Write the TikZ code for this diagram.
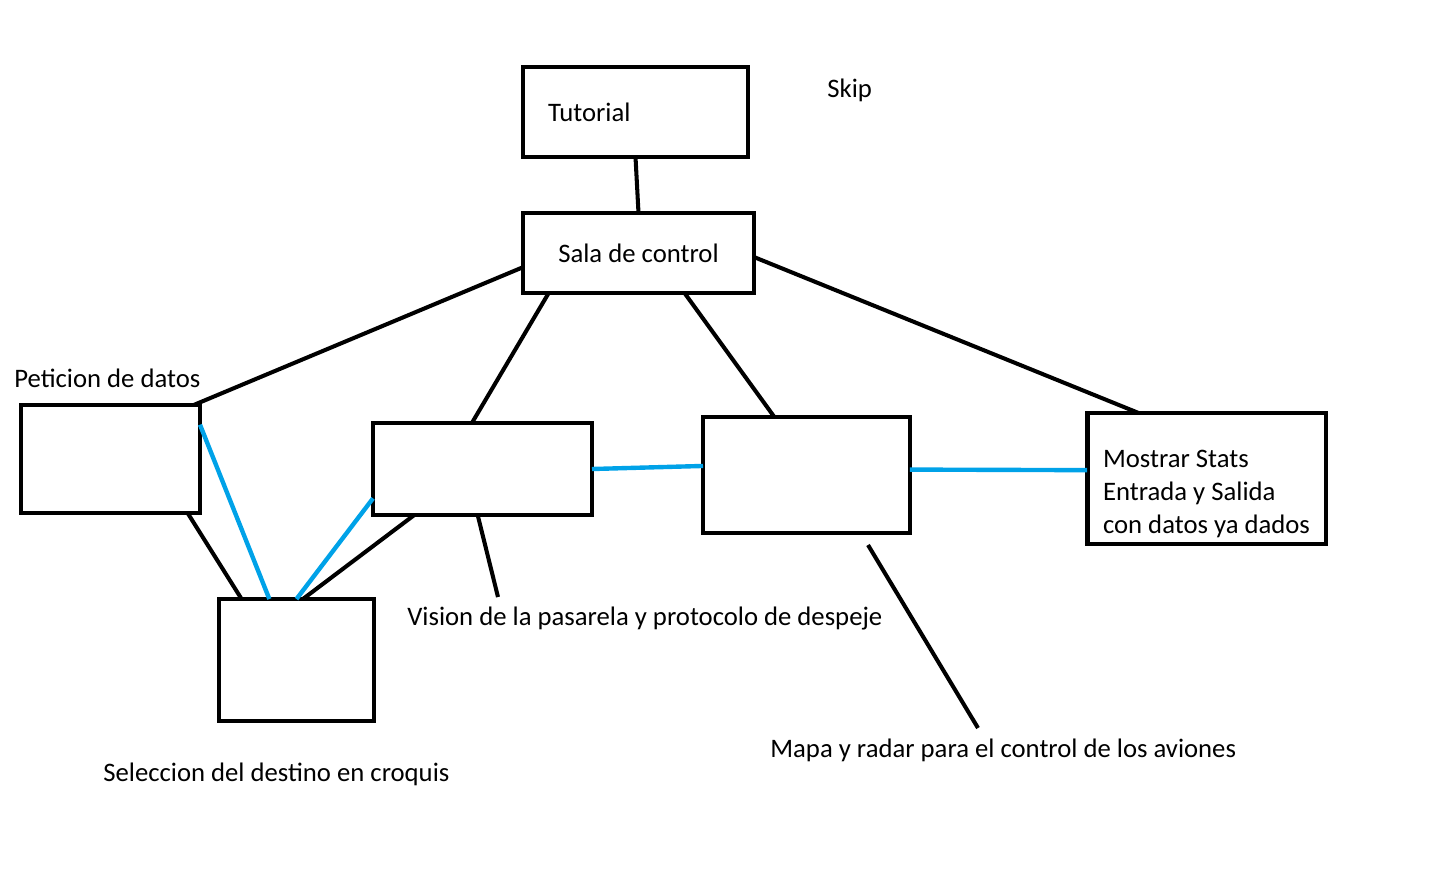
\documentclass[tikz,border=0pt]{standalone}
\usepackage{fontspec}
\setmainfont{Carlito}
\usepackage{xcolor}
\definecolor{paintblue}{RGB}{0,162,232}

\begin{document}
\begin{tikzpicture}[
    x=0.02cm, y=-0.02cm,
    font=\fontsize{15.2pt}{18.8pt}\selectfont,
    box/.style={rectangle, draw, line width=2.8pt, outer sep=0pt, align=center},
    txt/.style={inner sep=0pt, anchor=base west},
    link/.style={line width=2.3pt},
    bluelink/.style={line width=2.5pt, draw=paintblue}
]
    \useasboundingbox (0,0) rectangle (1436,870);

    \node[box, minimum width=4.5cm, minimum height=1.8cm, inner xsep=0.5cm, text width=3.5cm, align=left] (tut) at (635.5,112) {Tutorial};
    \node[box, minimum width=4.62cm, minimum height=1.6cm] (sala) at (638.5,253) {Sala de control};
    \node[box, minimum width=3.58cm, minimum height=2.16cm] (pet) at (110.5,459) {};
    \node[box, minimum width=4.38cm, minimum height=1.84cm] (vis) at (482.5,469) {};
    \node[box, minimum width=4.14cm, minimum height=2.32cm] (mapa) at (806.5,475) {};
    \node[box, minimum width=4.78cm, minimum height=2.62cm, align=left] (stats) at (1206.5,478.5) {\rule{0pt}{0.96cm}Mostrar Stats\\Entrada y Salida\\con datos ya dados};
    \node[box, minimum width=3.1cm, minimum height=2.44cm] (sel) at (296.5,660) {};

    \node[txt] (skip) at (827,97) {Skip};
    \node[txt] (pettxt) at (14,387) {Peticion de datos};
    \node[txt] (vistxt) at (407,625) {Vision de la pasarela y protocolo de despeje};
    \node[txt] (mapatxt) at (770,757) {Mapa y radar para el control de los aviones};
    \node[txt] (seltxt) at (103,781) {Seleccion del destino en croquis};

    \coordinate (vispt) at (498,597);
    \coordinate (mapa1) at (868,545);
    \coordinate (mapa2) at (978,728);

    \draw[link] (tut.south) -- (sala.north);
    \draw[link] (sala.187) -- (pet.33);
    \draw[link] (sala.204) -- (vis.103);
    \draw[link] (sala.-41) -- (mapa.119);
    \draw[link] (sala.-2) -- (stats.136);
    \draw[link] (pet.-35) -- (sel.132);
    \draw[link] (vis.214) -- (sel.84);
    \draw[link] (vis.264) -- (vispt);
    \draw[link] (mapa1) -- (mapa2);

    \draw[bluelink] (pet.21) -- (sel.114);
    \draw[bluelink] (vis.195) -- (sel.north);
    \draw[bluelink] (vis.east) -- (mapa.175);
    \draw[bluelink] (mapa.3) -- (stats.176);
\end{tikzpicture}
\end{document}
